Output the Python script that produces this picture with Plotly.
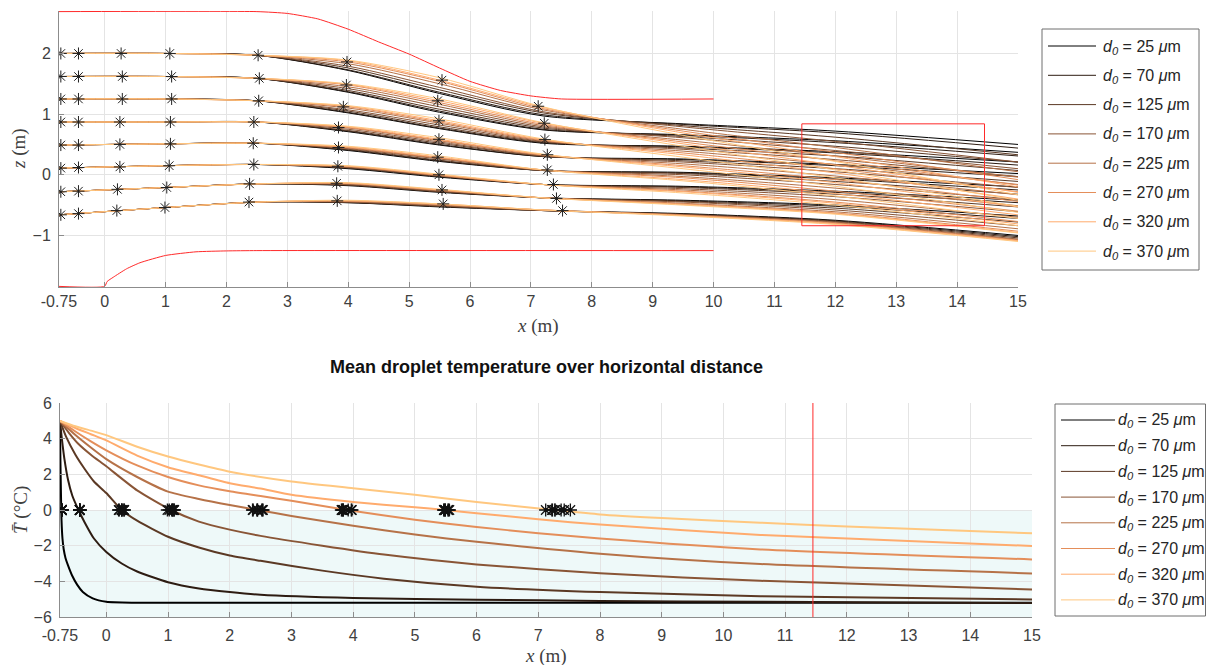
import plotly.graph_objects as go

# ---------------------------------------------------------------- data
DIAMETERS_UM = [25, 70, 125, 170, 225, 270, 320, 370]
# copper colour map, one colour per initial droplet diameter
COPPER = ['#000000', '#2d1c12', '#5b3924', '#895536',
          '#b67248', '#e48e5a', '#ffab6d', '#ffc77f']

X_TICKS = [-0.75, 0, 1, 2, 3, 4, 5, 6, 7, 8, 9, 10, 11, 12, 13, 14, 15]
X_TICK_TEXT = ['-0.75'] + [str(v) for v in X_TICKS[1:]]
Z_TICKS = [-1, 0, 1, 2]
T_TICKS = [-6, -4, -2, 0, 2, 4, 6]

# duct walls (x, z in m)
UPPER_WALL_X = [-0.75, 2.5, 3.0, 3.5, 4.0, 4.5, 5.0, 5.5, 6.0, 6.5, 7.0, 7.5, 10.0]
UPPER_WALL_Z = [2.69, 2.69, 2.66, 2.57, 2.40, 2.19, 1.99, 1.76, 1.54, 1.39, 1.30, 1.25, 1.25]
LOWER_WALL_X = [-0.75, 0.0, 0.04, 0.14, 0.36, 0.58, 1.0, 1.5, 2.0, 2.5, 10.0]
LOWER_WALL_Z = [-1.84, -1.84, -1.76, -1.69, -1.55, -1.45, -1.33, -1.27, -1.255, -1.25, -1.25]

# droplet trajectories: common inlet part per release height
INLET_X = [-0.75, 1.0, 2.5]
INLET_Z = [
    [2.00, 2.00, 1.97],
    [1.62, 1.62, 1.59],
    [1.25, 1.25, 1.22],
    [0.87, 0.87, 0.87],
    [0.49, 0.51, 0.52],
    [0.11, 0.15, 0.17],
    [-0.28, -0.21, -0.15],
    [-0.66, -0.54, -0.45],
]
# downstream part, per release height, per diameter (25 ... 370 um)
DOWNSTREAM_X = [4.0, 5.5, 7.2, 9.5, 12.0, 15.0]
DOWNSTREAM_Z = [
    [[1.72, 1.34, 0.97, 0.84, 0.72, 0.50],
     [1.73, 1.36, 0.99, 0.83, 0.69, 0.44],
     [1.76, 1.40, 1.02, 0.81, 0.62, 0.33],
     [1.79, 1.44, 1.04, 0.79, 0.55, 0.21],
     [1.83, 1.50, 1.07, 0.75, 0.45, 0.05],
     [1.86, 1.54, 1.09, 0.72, 0.37, -0.08],
     [1.88, 1.56, 1.11, 0.69, 0.30, -0.20],
     [1.89, 1.60, 1.12, 0.65, 0.22, -0.33]],
    [[1.36, 1.03, 0.74, 0.66, 0.56, 0.37],
     [1.37, 1.05, 0.75, 0.65, 0.53, 0.31],
     [1.39, 1.08, 0.77, 0.63, 0.47, 0.21],
     [1.42, 1.12, 0.79, 0.61, 0.40, 0.10],
     [1.45, 1.16, 0.81, 0.57, 0.31, -0.04],
     [1.48, 1.19, 0.83, 0.54, 0.23, -0.17],
     [1.49, 1.22, 0.85, 0.51, 0.16, -0.29],
     [1.50, 1.25, 0.86, 0.47, 0.08, -0.42]],
    [[1.02, 0.76, 0.52, 0.47, 0.38, 0.21],
     [1.03, 0.77, 0.53, 0.46, 0.36, 0.16],
     [1.05, 0.79, 0.54, 0.44, 0.31, 0.07],
     [1.07, 0.82, 0.55, 0.42, 0.25, -0.03],
     [1.10, 0.85, 0.56, 0.39, 0.17, -0.16],
     [1.12, 0.87, 0.57, 0.36, 0.10, -0.28],
     [1.13, 0.89, 0.58, 0.33, 0.03, -0.40],
     [1.14, 0.92, 0.59, 0.29, -0.05, -0.52]],
    [[0.71, 0.49, 0.30, 0.26, 0.17, 0.02],
     [0.72, 0.50, 0.30, 0.25, 0.15, -0.03],
     [0.73, 0.52, 0.31, 0.23, 0.10, -0.11],
     [0.75, 0.54, 0.31, 0.21, 0.05, -0.21],
     [0.77, 0.56, 0.32, 0.18, -0.02, -0.33],
     [0.78, 0.57, 0.33, 0.15, -0.08, -0.44],
     [0.79, 0.585, 0.33, 0.13, -0.13, -0.53],
     [0.80, 0.61, 0.34, 0.10, -0.19, -0.62]],
    [[0.40, 0.22, 0.07, 0.04, -0.05, -0.20],
     [0.41, 0.23, 0.07, 0.03, -0.07, -0.25],
     [0.42, 0.24, 0.07, 0.02, -0.11, -0.32],
     [0.43, 0.26, 0.07, 0.00, -0.16, -0.41],
     [0.44, 0.27, 0.08, -0.03, -0.22, -0.51],
     [0.45, 0.28, 0.08, -0.05, -0.27, -0.60],
     [0.46, 0.29, 0.08, -0.08, -0.31, -0.66],
     [0.47, 0.31, 0.08, -0.10, -0.35, -0.72]],
    [[0.10, -0.04, -0.16, -0.19, -0.27, -0.42],
     [0.11, -0.03, -0.16, -0.20, -0.29, -0.46],
     [0.12, -0.02, -0.16, -0.21, -0.32, -0.53],
     [0.12, -0.02, -0.16, -0.23, -0.36, -0.61],
     [0.13, -0.01, -0.16, -0.25, -0.41, -0.70],
     [0.14, -0.01, -0.16, -0.27, -0.45, -0.77],
     [0.14, 0.00, -0.16, -0.28, -0.47, -0.81],
     [0.15, 0.01, -0.16, -0.30, -0.50, -0.84]],
    [[-0.18, -0.29, -0.38, -0.42, -0.50, -0.68],
     [-0.17, -0.28, -0.38, -0.43, -0.52, -0.72],
     [-0.17, -0.28, -0.38, -0.44, -0.55, -0.78],
     [-0.16, -0.27, -0.38, -0.45, -0.58, -0.84],
     [-0.15, -0.26, -0.38, -0.47, -0.61, -0.89],
     [-0.14, -0.25, -0.38, -0.48, -0.63, -0.93],
     [-0.14, -0.25, -0.38, -0.49, -0.64, -0.95],
     [-0.13, -0.24, -0.38, -0.50, -0.65, -0.96]],
    [[-0.46, -0.53, -0.59, -0.64, -0.75, -1.00],
     [-0.46, -0.52, -0.59, -0.65, -0.76, -1.02],
     [-0.45, -0.52, -0.59, -0.65, -0.77, -1.04],
     [-0.45, -0.51, -0.59, -0.66, -0.78, -1.06],
     [-0.44, -0.50, -0.58, -0.66, -0.79, -1.07],
     [-0.43, -0.49, -0.58, -0.67, -0.80, -1.08],
     [-0.43, -0.48, -0.58, -0.67, -0.81, -1.09],
     [-0.42, -0.48, -0.58, -0.68, -0.82, -1.10]],
]

# freezing onset points (x, z) per release height and diameter
FREEZE_X = [
    [-0.72, -0.43, 0.27, 1.07, 2.52, 3.98, 5.54, 7.12],
    [-0.72, -0.43, 0.29, 1.10, 2.54, 3.97, 5.47, 7.22],
    [-0.72, -0.43, 0.29, 1.10, 2.53, 3.92, 5.49, 7.23],
    [-0.72, -0.43, 0.25, 1.08, 2.45, 3.84, 5.49, 7.27],
    [-0.72, -0.43, 0.25, 1.08, 2.44, 3.84, 5.47, 7.27],
    [-0.72, -0.43, 0.25, 1.06, 2.45, 3.83, 5.49, 7.37],
    [-0.72, -0.43, 0.21, 1.02, 2.38, 3.81, 5.54, 7.42],
    [-0.72, -0.43, 0.20, 0.99, 2.37, 3.82, 5.56, 7.52],
]
FREEZE_Z = [
    [2.00, 2.00, 2.00, 2.00, 1.97, 1.86, 1.56, 1.13],
    [1.62, 1.62, 1.62, 1.62, 1.59, 1.48, 1.22, 0.85],
    [1.25, 1.25, 1.25, 1.25, 1.22, 1.12, 0.89, 0.58],
    [0.87, 0.87, 0.87, 0.87, 0.87, 0.78, 0.585, 0.33],
    [0.49, 0.49, 0.50, 0.51, 0.52, 0.45, 0.29, 0.08],
    [0.11, 0.12, 0.13, 0.15, 0.17, 0.14, 0.00, -0.16],
    [-0.28, -0.27, -0.24, -0.21, -0.15, -0.14, -0.25, -0.39],
    [-0.66, -0.64, -0.59, -0.54, -0.45, -0.43, -0.48, -0.59],
]
FREEZE_T = 0.0

# observation window (x range, z range)
WINDOW_X = [11.45, 14.45]
WINDOW_Z = [-0.84, 0.84]
CURSOR_X = 11.45

# mean droplet temperature along x, per diameter
TEMP_X = [
    [-0.75, -0.745, -0.735, -0.725, -0.71, -0.69, -0.66, -0.62, -0.55, -0.47, -0.38, -0.22, 0.0, 0.5, 15.0],
    [-0.75, -0.72, -0.68, -0.62, -0.55, -0.45, -0.35, -0.2, 0.0, 0.25, 0.5, 1.0, 1.5, 2.0, 2.5, 4.0, 6.0, 8.0, 10.6, 15.0],
    [-0.75, -0.65, -0.5, -0.35, -0.2, 0.0, 0.25, 0.5, 1.0, 1.5, 2.0, 2.5, 3.5, 4.5, 6.0, 8.0, 10.6, 15.0],
    [-0.75, -0.6, -0.45, -0.25, 0.0, 0.5, 1.05, 1.5, 2.0, 2.5, 3.5, 4.5, 6.0, 8.0, 10.6, 15.0],
    [-0.75, -0.5, -0.25, 0.0, 0.5, 1.0, 1.5, 2.0, 2.45, 3.0, 4.0, 5.0, 6.0, 8.0, 10.6, 15.0],
    [-0.75, -0.5, -0.25, 0.0, 0.5, 1.0, 1.5, 2.0, 2.5, 3.0, 3.9, 5.0, 6.0, 7.0, 8.0, 10.6, 15.0],
    [-0.75, -0.5, -0.25, 0.0, 0.5, 1.0, 1.5, 2.0, 2.5, 3.0, 4.0, 5.0, 5.5, 6.0, 7.0, 8.0, 10.6, 15.0],
    [-0.75, -0.5, -0.25, 0.0, 0.5, 1.0, 1.5, 2.0, 3.0, 4.0, 5.0, 6.0, 7.25, 8.0, 9.0, 10.6, 12.0, 15.0],
]
TEMP_C = [
    [5.0, 3.2, 1.0, -0.6, -1.6, -2.2, -2.7, -3.1, -3.7, -4.2, -4.6, -4.96, -5.15, -5.2, -5.2],
    [5.0, 4.0, 2.9, 1.7, 0.8, 0.0, -0.7, -1.6, -2.35, -3.0, -3.45, -4.05, -4.4, -4.6, -4.75, -4.93, -5.03, -5.1, -5.15, -5.22],
    [5.0, 4.1, 3.1, 2.3, 1.6, 0.95, 0.0, -0.6, -1.5, -2.1, -2.55, -2.85, -3.4, -3.85, -4.3, -4.6, -4.83, -5.02],
    [5.0, 4.3, 3.7, 3.1, 2.45, 1.1, 0.0, -0.65, -1.1, -1.45, -2.0, -2.5, -3.05, -3.55, -3.97, -4.46],
    [5.0, 4.2, 3.5, 2.85, 1.85, 1.03, 0.62, 0.28, 0.0, -0.33, -0.88, -1.38, -1.78, -2.45, -3.03, -3.56],
    [5.0, 4.4, 3.85, 3.35, 2.5, 1.85, 1.38, 1.05, 0.78, 0.52, 0.0, -0.55, -0.95, -1.3, -1.6, -2.21, -2.77],
    [5.0, 4.6, 4.25, 3.9, 3.05, 2.4, 1.95, 1.5, 1.2, 0.85, 0.45, 0.15, 0.0, -0.18, -0.52, -0.82, -1.40, -2.02],
    [5.0, 4.7, 4.45, 4.2, 3.55, 3.0, 2.55, 2.15, 1.6, 1.22, 0.85, 0.45, 0.0, -0.25, -0.45, -0.71, -0.92, -1.31],
]
ICE_BAND_T = [-6, 0]

# ---------------------------------------------------------------- style
W, H = 1206, 665
AX_COLOR = '#8c8c8c'
GRID_COLOR = '#e4e4e4'
TICK_FONT = dict(family='Liberation Sans, Arial, sans-serif', size=16, color='#404040')
LABEL_FONT = dict(family='Liberation Serif, Times New Roman, serif', size=19, color='#404040')
LEGEND_FONT = dict(family='Liberation Sans, Arial, sans-serif', size=16, color='#262626')


def px_x(px):
    return px / W


def px_y(py):
    return 1 - py / H


fig = go.Figure()

# ---------------------------------------------------------------- top panel: trajectories
for wx, wz in ((UPPER_WALL_X, UPPER_WALL_Z), (LOWER_WALL_X, LOWER_WALL_Z)):
    fig.add_trace(go.Scatter(x=wx, y=wz, mode='lines', xaxis='x', yaxis='y',
                             line=dict(color='#ff2a2a', width=1, shape='spline', smoothing=0.5),
                             hoverinfo='skip'))

for j, d in enumerate(DIAMETERS_UM):
    for r in range(len(INLET_Z)):
        fig.add_trace(go.Scatter(
            x=INLET_X + DOWNSTREAM_X, y=INLET_Z[r] + DOWNSTREAM_Z[r][j],
            mode='lines', xaxis='x', yaxis='y',
            line=dict(color=COPPER[j], width=1, shape='spline', smoothing=0.8),
            name=f'd0 = {d} um', hoverinfo='skip'))

star_x = [v for row in FREEZE_X for v in row]
star_z = [v for row in FREEZE_Z for v in row]
fig.add_trace(go.Scatter(x=star_x, y=star_z, mode='markers', xaxis='x', yaxis='y',
                         marker=dict(symbol='asterisk-open', size=10, color='#202020',
                                     line=dict(width=1, color='#202020')),
                         hoverinfo='skip'))

# ---------------------------------------------------------------- bottom panel: temperature
for j, d in enumerate(DIAMETERS_UM):
    fig.add_trace(go.Scatter(
        x=TEMP_X[j], y=TEMP_C[j], mode='lines', xaxis='x2', yaxis='y2',
        line=dict(color=COPPER[j], width=2, shape='spline', smoothing=0.6),
        hoverinfo='skip'))

fig.add_trace(go.Scatter(x=star_x, y=[FREEZE_T] * len(star_x), mode='markers',
                         xaxis='x2', yaxis='y2',
                         marker=dict(symbol='asterisk-open', size=11, color='#111111',
                                     line=dict(width=1.3, color='#111111')),
                         hoverinfo='skip'))

shapes = [
    # frozen region
    dict(type='rect', xref='x2', yref='y2', x0=X_TICKS[0], x1=X_TICKS[-1],
         y0=ICE_BAND_T[0], y1=ICE_BAND_T[1], fillcolor='#eef9f9', line=dict(width=0),
         layer='below'),
    # observation window
    dict(type='rect', xref='x', yref='y', x0=WINDOW_X[0], x1=WINDOW_X[1],
         y0=WINDOW_Z[0], y1=WINDOW_Z[1], line=dict(color='#ff2a2a', width=1),
         fillcolor='rgba(0,0,0,0)'),
    # window start marker
    dict(type='line', xref='x2', yref='y2 domain', x0=CURSOR_X, x1=CURSOR_X,
         y0=0, y1=1, line=dict(color='#ff2a2a', width=1)),
]

annotations = [
    dict(text='<b>Mean droplet temperature over horizontal distance</b>',
         x=px_x(546), y=px_y(367), xref='paper', yref='paper', showarrow=False,
         font=dict(family='Liberation Sans, Arial, sans-serif', size=18, color='#111111'),
         xanchor='center', yanchor='middle'),
    dict(text='<i>x</i> (m)', x=px_x(538), y=px_y(326), xref='paper', yref='paper',
         showarrow=False, font=LABEL_FONT, xanchor='center', yanchor='middle'),
    dict(text='<i>x</i> (m)', x=px_x(546), y=px_y(656), xref='paper', yref='paper',
         showarrow=False, font=LABEL_FONT, xanchor='center', yanchor='middle'),
    dict(text='<i>z</i> (m)', x=px_x(19), y=px_y(149), xref='paper', yref='paper',
         showarrow=False, font=LABEL_FONT, textangle=-90, xanchor='center', yanchor='middle'),
    dict(text='<i>T\u0304</i> (\u00b0C)', x=px_x(21), y=px_y(510), xref='paper', yref='paper',
         showarrow=False, font=LABEL_FONT, textangle=-90, xanchor='center', yanchor='middle'),
]

# legends drawn as boxes with sample lines and labels
legend_boxes = [
    dict(box=(1042, 29, 1199, 270), first=46, step=29.3, line=(1048, 1096), text_x=1101),
    dict(box=(1055, 404, 1205.5, 616), first=420, step=25.7, line=(1061, 1115), text_x=1116),
]
for lg in legend_boxes:
    bx0, by0, bx1, by1 = lg['box']
    shapes.append(dict(type='rect', xref='paper', yref='paper',
                       x0=px_x(bx0), x1=px_x(bx1), y0=px_y(by1), y1=px_y(by0),
                       line=dict(color='#6e6e6e', width=1), fillcolor='white'))
    for j, d in enumerate(DIAMETERS_UM):
        yc = lg['first'] + j * lg['step']
        shapes.append(dict(type='line', xref='paper', yref='paper',
                           x0=px_x(lg['line'][0]), x1=px_x(lg['line'][1]),
                           y0=px_y(yc), y1=px_y(yc),
                           line=dict(color=COPPER[j], width=1)))
        annotations.append(dict(
            text=f'<i>d</i><sub><i>0</i></sub> = {d} <i>\u03bc</i>m',
            x=px_x(lg['text_x']), y=px_y(yc + 1), xref='paper', yref='paper',
            showarrow=False, font=LEGEND_FONT, xanchor='left', yanchor='middle'))

axis_common = dict(showline=True, linecolor=AX_COLOR, linewidth=1, ticks='inside',
                   ticklen=5, tickcolor=AX_COLOR, showgrid=True, gridcolor=GRID_COLOR,
                   gridwidth=1, zeroline=False, tickfont=TICK_FONT, mirror=False,
                   automargin=False)

fig.update_layout(
    width=W, height=H, margin=dict(l=0, r=0, t=0, b=0, pad=0),
    paper_bgcolor='white', plot_bgcolor='white', showlegend=False,
    xaxis=dict(domain=[px_x(59), px_x(1018)], anchor='y', range=[X_TICKS[0], X_TICKS[-1]],
               tickvals=X_TICKS, ticktext=X_TICK_TEXT, ticklabelstandoff=0, **axis_common),
    yaxis=dict(domain=[px_y(287), px_y(11)], anchor='x', range=[-1.85, 2.70],
               tickvals=Z_TICKS, ticklabelstandoff=4, **axis_common),
    xaxis2=dict(domain=[px_x(60), px_x(1032)], anchor='y2', range=[X_TICKS[0], X_TICKS[-1]],
                tickvals=X_TICKS, ticktext=X_TICK_TEXT, ticklabelstandoff=4, **axis_common),
    yaxis2=dict(domain=[px_y(617), px_y(403)], anchor='x2', range=[T_TICKS[0], T_TICKS[-1]],
                tickvals=T_TICKS, ticklabelstandoff=4, **axis_common),
    shapes=shapes, annotations=annotations,
)

fig.write_html('out.html')
